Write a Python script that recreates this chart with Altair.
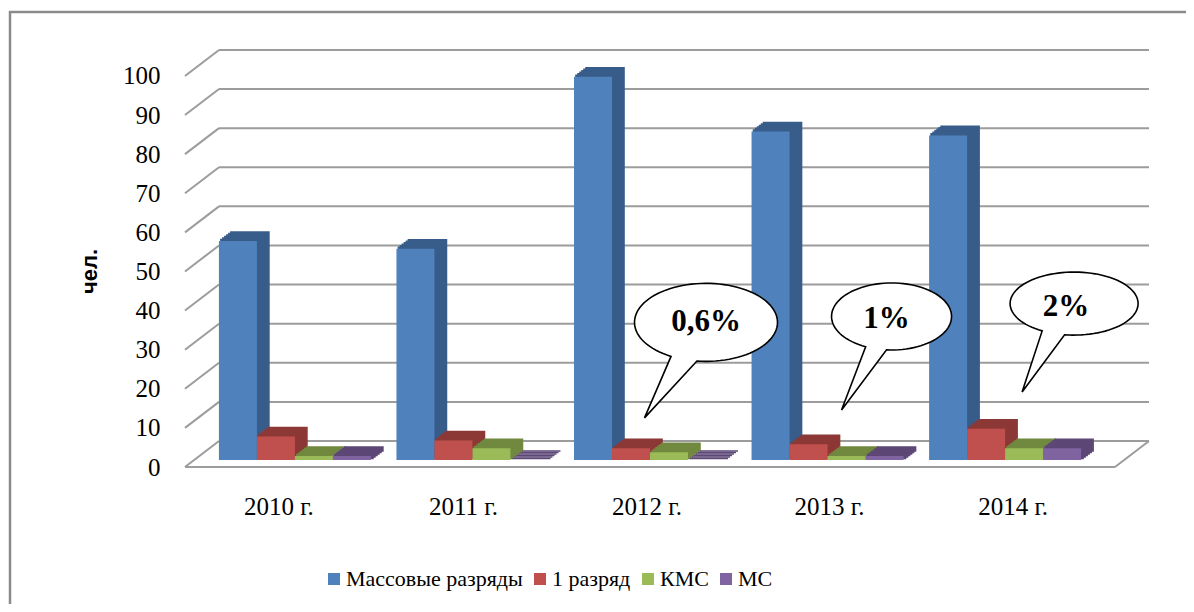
import math
import altair as alt
import pandas as pd

# ---------------- data ----------------
years = ["2010 г.", "2011 г.", "2012 г.", "2013 г.", "2014 г."]
series = ["Массовые разряды", "1 разряд", "КМС", "МС"]
mass = [56, 54, 98, 84, 83]
first_rank = [6, 5, 3, 4, 8]
kms = [1, 3, 2, 1, 3]
ms = [1, 0, 0, 1, 3]
y_ticks = list(range(0, 101, 10))

colors = ["#4f81bd", "#c0504d", "#9bbb59", "#8064a2"]
darks = ["#385d8a", "#8c3836", "#71893f", "#5c4776"]

bubble_years = ["2012 г.", "2013 г.", "2014 г."]
bubble_labels = ["0,6%", "1%", "2%"]
bubble_values = [35.2, 36.7, 40.0]

# ---------------- layout constants ----------------
W, H = 930, 420
Y_MAX = 107.4
P_IN, P_OUT = 0.144, 0.191
step = W / (5 - P_IN + 2 * P_OUT)
bw = step * (1 - P_IN)
DEPTH_X, DEPTH_Y = 34, 26          # back wall offset
FRONT_DY = 7                        # front plane below bar base

rows = []
for vals, s, c, d in zip([mass, first_rank, kms, ms], series, colors, darks):
    for y, v in zip(years, vals):
        rows.append({"year": y, "series": s, "value": v, "dark": d})
df = pd.DataFrame(rows)
grid_df = pd.DataFrame({"v": y_ticks})
floor_df = pd.DataFrame({"v": [0]})
one = pd.DataFrame({"k": [0]})
bdf = pd.DataFrame({"year": bubble_years, "label": bubble_labels, "value": bubble_values})
lab_df = pd.DataFrame({"year": years})

xscale = alt.Scale(domain=years, paddingInner=P_IN, paddingOuter=P_OUT)
yscale = alt.Scale(domain=[0, Y_MAX], nice=False, zero=True)
gridc = "#9c9c9c"

yaxis = alt.Axis(
    values=y_ticks, domain=False, ticks=False, grid=False,
    labelFont="Liberation Serif", labelFontSize=25, labelColor="black",
    labelPadding=25, labelOffset=FRONT_DY,
    title="чел.", titleFont="Liberation Sans", titleFontSize=22, titleFontWeight="bold",
    titleColor="black", titleAngle=270, titleAlign="center", titleBaseline="middle",
    titleX=-96, titleY=231)


def Y(field):
    return alt.Y(field, scale=yscale, axis=yaxis)


layers = []

# chart frame
layers.append(
    alt.Chart(one).mark_rect(fill="transparent", stroke="#8a8a8a", strokeWidth=2.5).encode(
        x=alt.value(-175), x2=alt.value(1100), y=alt.value(-28), y2=alt.value(700)
    )
)

# back wall gridlines
layers.append(
    alt.Chart(grid_df).mark_rule(color=gridc, strokeWidth=2, yOffset=-(DEPTH_Y - FRONT_DY)).encode(
        y=Y("v:Q"), x=alt.value(DEPTH_X), x2=alt.value(W + DEPTH_X)
    )
)
# left diagonals
layers.append(
    alt.Chart(grid_df).mark_rule(color=gridc, strokeWidth=2, yOffset=FRONT_DY,
                                 y2Offset=-(DEPTH_Y - FRONT_DY)).encode(
        y=Y("v:Q"), y2=alt.Y2("v:Q"), x=alt.value(0), x2=alt.value(DEPTH_X)
    )
)
# floor
layers.append(
    alt.Chart(floor_df).mark_rule(color=gridc, strokeWidth=2, yOffset=FRONT_DY).encode(
        y=Y("v:Q"), x=alt.value(0), x2=alt.value(W)
    )
)
layers.append(
    alt.Chart(floor_df).mark_rule(color=gridc, strokeWidth=2, yOffset=FRONT_DY,
                                  y2Offset=-(DEPTH_Y - FRONT_DY)).encode(
        y=Y("v:Q"), y2=alt.Y2("v:Q"), x=alt.value(W), x2=alt.value(W + DEPTH_X)
    )
)

# 3D extrusion of bars (stacked offset copies)
for k in [6, 5, 4, 3, 2, 1]:
    layers.append(
        alt.Chart(df).mark_bar(yOffset=-1.5 * k, y2Offset=-1.5 * k, strokeWidth=1.6).encode(
            x=alt.X("year:N", scale=xscale, axis=None),
            xOffset=alt.XOffset("series:N", scale=alt.Scale(domain=series, range=[2 * k, 2 * k + bw],
                                                             paddingInner=0, paddingOuter=0)),
            y=Y("value:Q"),
            fill=alt.Fill("dark:N", scale=None),
            stroke=alt.Stroke("dark:N", scale=None),
        )
    )

legend = alt.Legend(orient="none", legendX=138, legendY=528,
                    direction="horizontal", title=None,
                    symbolType="square", symbolSize=144, symbolStrokeWidth=0,
                    labelFont="Liberation Serif", labelFontSize=22, labelLimit=0,
                    labelColor="black", columnPadding=6, labelOffset=1, padding=0)

# front faces
layers.append(
    alt.Chart(df).mark_bar().encode(
        x=alt.X("year:N", scale=xscale, axis=None),
        xOffset=alt.XOffset("series:N", scale=alt.Scale(domain=series, range=[0, bw],
                                                         paddingInner=0, paddingOuter=0)),
        y=Y("value:Q"),
        color=alt.Color("series:N", scale=alt.Scale(domain=series, range=colors), legend=legend),
    )
)

# x labels (front plane)
label_dx = [-16, -9, -3, 2, 8]
for yl, dx in zip(years, label_dx):
    layers.append(
        alt.Chart(lab_df).transform_filter(alt.datum.year == yl).mark_text(
            font="Liberation Serif", fontSize=25, color="black", dx=dx, baseline="middle"
        ).encode(x=alt.X("year:N", scale=xscale, axis=None), y=alt.value(467), text="year:N")
    )


# speech bubbles
def bubble_path(rx, ry, b1, b2, tip, unit=100.0, n=90):
    a1 = math.atan2(b1[1] / ry, b1[0] / rx)
    a2 = math.atan2(b2[1] / ry, b2[0] / rx)
    d = (a1 - a2) % (2 * math.pi)
    span = -(2 * math.pi - d) if d < math.pi else d
    pts = []
    for i in range(n + 1):
        a = a2 + span * i / n
        pts.append((rx * math.cos(a) / unit, ry * math.sin(a) / unit))
    p = "M" + " L".join(f"{x:.4f} {y:.4f}" for x, y in pts)
    p += f" L{tip[0] / unit:.4f} {tip[1] / unit:.4f} Z"
    return p


bubble_geom = [
    # rx, ry, base1, base2, tip, dx(center), text dx, text dy
    (71.5, 39.0, (-36.5, 35.5), (-9.5, 40.5), (-61.5, 95.5), 56, 0, 0),
    (60.0, 33.5, (-27.0, 31.5), (-5.0, 33.5), (-50.0, 93.5), 64, -5, 3),
    (64.0, 31.5, (-31.0, 26.5), (-9.0, 29.5), (-52.0, 88.5), 69, -8, 3),
]
for lab, (rx, ry, b1, b2, tip, dx, tdx, tdy) in zip(bubble_labels, bubble_geom):
    base = alt.Chart(bdf).transform_filter(alt.datum.label == lab)
    layers.append(
        base.mark_point(shape=bubble_path(rx, ry, b1, b2, tip), size=40000, filled=True,
                        fill="white", stroke="black", strokeWidth=1.6, opacity=1, xOffset=dx).encode(
            x=alt.X("year:N", scale=xscale, axis=None),
            y=Y("value:Q"),
        )
    )
    layers.append(
        base.mark_text(font="Liberation Serif", fontSize=31, fontWeight="bold", color="black",
                       dx=dx + tdx, dy=tdy, baseline="middle").encode(
            x=alt.X("year:N", scale=xscale, axis=None),
            y=Y("value:Q"),
            text="label:N",
        )
    )

chart = alt.layer(*layers).resolve_scale(xOffset="independent").properties(
    width=W, height=H,
    autosize=alt.AutoSizeParams(type="none"),
    padding={"left": 177, "top": 32, "right": 71, "bottom": 144},
    background="white",
).configure_view(strokeWidth=0).configure_legend(
    labelFont="Liberation Serif", labelFontSize=22, labelLimit=0, labelColor="black",
    symbolSize=144, symbolType="square", columnPadding=6, labelOffset=1
)

chart.save("out.html", embed_options={"renderer": "svg", "actions": False})
